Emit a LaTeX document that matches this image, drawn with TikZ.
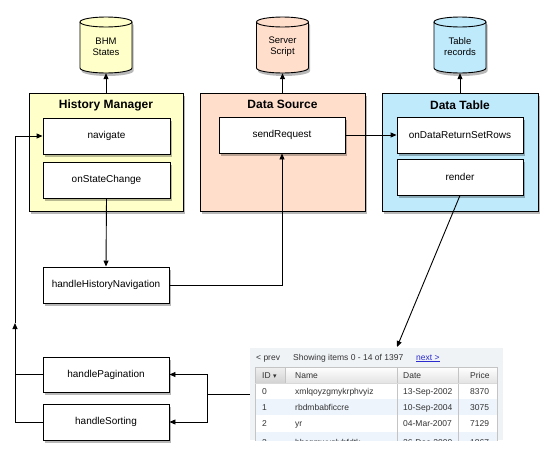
\documentclass[tikz,border=0pt]{standalone}
\usepackage{fontspec}
\setmainfont{Liberation Sans}
\newfontfamily\djv{DejaVu Sans}
\usetikzlibrary{arrows.meta,shadows}
\definecolor{hmy}{HTML}{FFFFC9}
\definecolor{dsp}{HTML}{FFDECC}
\definecolor{dtb}{HTML}{BEEAFC}
\definecolor{wbg}{HTML}{F0F3F6}
\definecolor{rowb}{HTML}{EDF4FC}
\definecolor{tgray}{HTML}{333333}
\definecolor{lgray}{HTML}{C4C4C4}
\definecolor{lnk}{HTML}{2B2BD0}
\newcommand\dbcyl[5]{%
\begin{scope}[shift={(#2,0)}]
 \path[fill=black,opacity=0.28,shift={(1.5,3)}] (-26,22) -- (-26,68) arc[start angle=180,end angle=0,x radius=26,y radius=5] -- (26,22) arc[start angle=0,end angle=-180,x radius=26,y radius=5] -- cycle;
 \path[fill=#3] (-26,22) -- (-26,68) arc[start angle=180,end angle=0,x radius=26,y radius=5] -- (26,22) arc[start angle=0,end angle=-180,x radius=26,y radius=5] -- cycle;
 \draw[line width=0.9pt] (-26,22) -- (-26,68) arc[start angle=180,end angle=0,x radius=26,y radius=5] -- (26,22);
 \draw[line width=0.9pt] (0,22) ellipse [x radius=26, y radius=5];
 \node[minimum width=52,minimum height=52,inner sep=0,align=center,font=\fontsize{9.5}{11}\selectfont] (#1) at (0,47) {#4\\#5};
\end{scope}}
\begin{document}
\begin{tikzpicture}[x=1pt,y=-1pt,
  shd/.style={drop shadow={shadow xshift=1.5pt,shadow yshift=-3pt,fill=black,opacity=0.28}},
  container/.style={draw,line width=0.9pt,shd,inner sep=0,minimum height=118},
  fn/.style={draw,fill=white,line width=0.9pt,shd,inner sep=0,minimum width=127,minimum height=36,font=\fontsize{10}{12}\selectfont},
  ttl/.style={font=\bfseries\fontsize{12}{14}\selectfont,inner sep=0},
  arr/.style={line width=0.9pt,-{Triangle[length=6pt,width=5pt]}},
  ln/.style={line width=0.9pt},
  cell/.style={font=\fontsize{8.5}{10}\selectfont,text=tgray,inner sep=0,anchor=base west},
]
\useasboundingbox (0,0) rectangle (558,464);

% cylinders
\dbcyl{bhm}{106}{hmy}{BHM}{States}
\dbcyl{srv}{282.5}{dsp}{Server}{Script}
\dbcyl{rec}{460}{dtb}{Table}{records}

% containers
\node[container,fill=hmy,minimum width=154] (hm) at (106,152) {};
\node[container,fill=dsp,minimum width=165] (ds) at (282.5,152) {};
\node[container,fill=dtb,minimum width=156] (dt) at (460,152) {};
\node[ttl] (hmt) at (106,105) {History Manager};
\node[ttl] (dst) at (282.5,104) {Data Source};
\node[ttl] (dtt) at (460,105) {Data Table};

% functions
\node[fn] (nav) at (106.5,136) {navigate};
\node[fn] (osc) at (106.5,180) {onStateChange};
\node[fn,minimum width=126] (sr) at (282,135) {sendRequest};
\node[fn,minimum width=126] (odr) at (460,135) {onDataReturnSetRows};
\node[fn,minimum width=126] (rnd) at (460,177) {render};
\node[fn,minimum width=126] (hhn) at (106,285) {handleHistoryNavigation};
\node[fn,minimum width=126,minimum height=35] (hp) at (106,374.5) {handlePagination};
\node[fn,minimum width=126] (hs) at (106,422) {handleSorting};

% table widget
\node[fill=wbg,inner sep=0,minimum width=253,minimum height=92] (tbl) at (376.5,394) {};
\begin{scope}
 \clip (250,348) rectangle (503,440);
 \shade[top color=white,bottom color=gray!22] (255,367) rectangle (497,383);
 \shade[top color=gray!12,bottom color=gray!35] (255,367) rectangle (285,383);
 \fill[white] (255,383) rectangle (497,399);
 \fill[rowb] (255,399) rectangle (497,415);
 \fill[white] (255,415) rectangle (497,432);
 \fill[rowb] (255,432) rectangle (497,447);
 \draw[lgray,line width=0.6pt] (285,367) -- (285,383);
 \draw[lgray,line width=0.6pt] (397,367) -- (397,447);
 \draw[lgray,line width=0.6pt] (458,367) -- (458,447);
 \draw[lgray,line width=0.7pt] (255,447) -- (255,367) -- (497,367) -- (497,447);
 \draw[gray!30,line width=0.5pt] (255,383) -- (497,383);
 \node[cell] (prev) at (256,360) {< prev};
 \node[cell] (show) at (293,360) {Showing items 0 - 14 of 1397};
 \node[cell,text=lnk] (next) at (416,360) {\underline{next >}};
 \node[cell] (hid) at (262,378) {ID {\djv\fontsize{7}{8}\selectfont ▾}};
 \node[cell] (hname) at (295,378) {Name};
 \node[cell] (hdate) at (403,378) {Date};
 \node[cell] (hprice) at (470,378) {Price};
 \node[cell] (a0) at (262,394) {0};
 \node[cell] (b0) at (295,394) {xmlqoyzgmykrphvyiz};
 \node[cell] (c0) at (403,394) {13-Sep-2002};
 \node[cell] (d0) at (470,394) {8370};
 \node[cell] (a1) at (262,410) {1};
 \node[cell] (b1) at (295,410) {rbdmbabficcre};
 \node[cell] (c1) at (403,410) {10-Sep-2004};
 \node[cell] (d1) at (470,410) {3075};
 \node[cell] (a2) at (262,426) {2};
 \node[cell] (b2) at (295,426) {yr};
 \node[cell] (c2) at (403,426) {04-Mar-2007};
 \node[cell] (d2) at (470,426) {7129};
 \node[cell] (a3) at (262,445) {3};
 \node[cell] (b3) at (295,445) {bhcgmwvqlybfdtk};
 \node[cell] (c3) at (403,445) {26-Dec-2000};
 \node[cell] (d3) at (470,445) {1867};
\end{scope}

% connectors
\draw[arr] (hm.north) -- (bhm.south);
\draw[arr] (ds.north) -- (srv.south);
\draw[arr] (dt.north) -- (rec.south);
\draw[arr] (osc.south) -- (hhn.north);
\draw[arr] (hhn.east) -| (sr.south);
\draw[arr] (sr.east) -- (odr.west);
\coordinate (tbltop) at (397,347);
\draw[arr] (rnd.south) -- (tbltop);
\coordinate (rj) at (207,394);
\draw[ln] (tbl.west) -- (rj);
\draw[arr] (rj) |- (hp.east);
\draw[arr] (rj) |- (hs.east);
\coordinate (lmid) at (15,323);
\draw[ln] (hp.west) -- (hp.west -| lmid);
\draw[arr] (hs.west) -| (lmid);
\draw[arr] (lmid) |- (nav.west);
\end{tikzpicture}
\end{document}
